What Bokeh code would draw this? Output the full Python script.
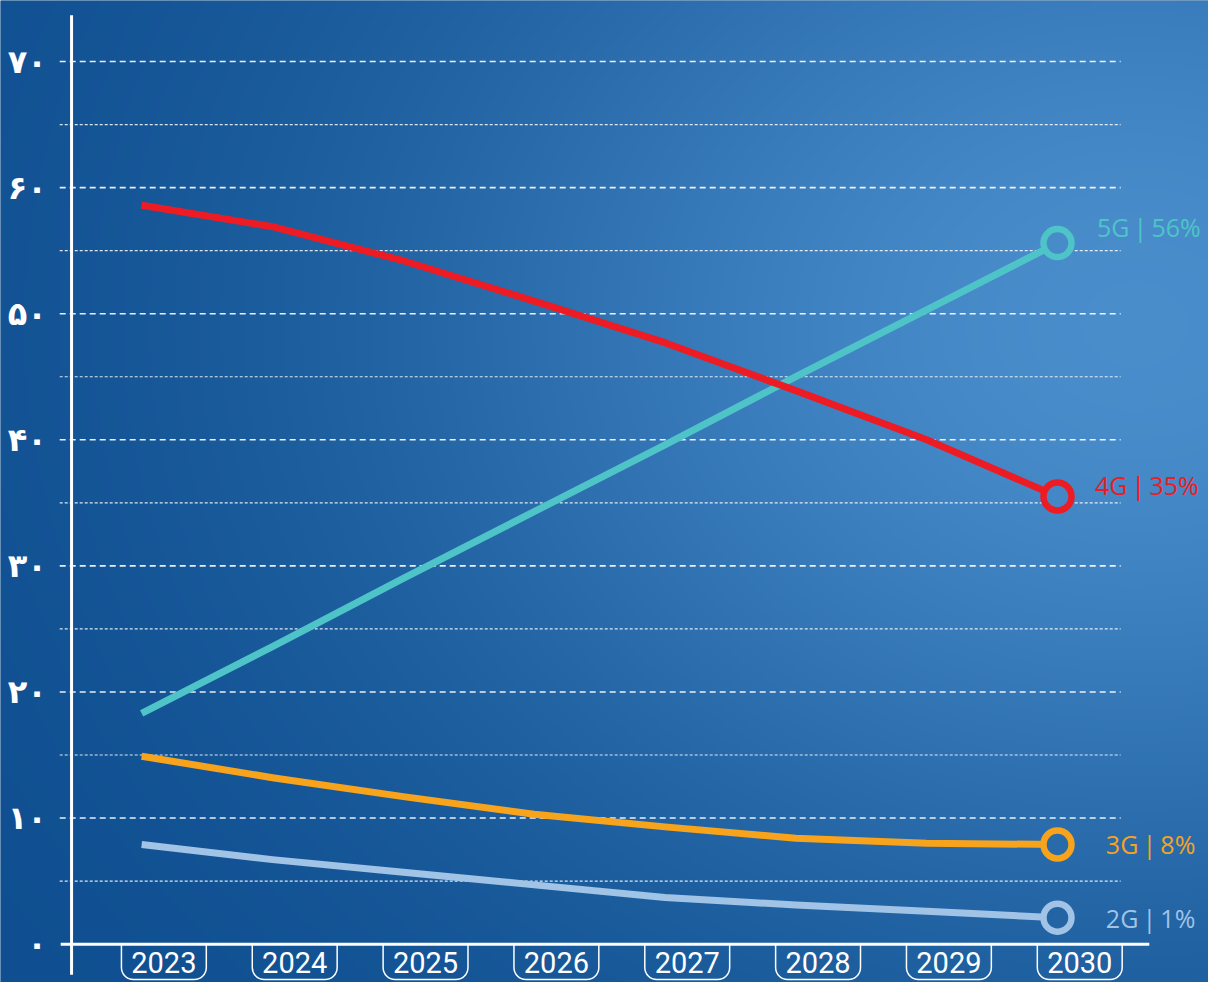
import numpy as np
from bokeh.plotting import figure
from bokeh.models import Range1d
from bokeh.core.properties import value
from bokeh.embed import file_html
from bokeh.resources import INLINE

# ---------------- data ----------------
years = [2023, 2024, 2025, 2026, 2027, 2028, 2029, 2030]
g5 = [18.3, 23.6, 29.0, 34.3, 39.6, 45.0, 50.3, 55.6]
g4 = [58.6, 56.9, 54.2, 51.0, 47.7, 43.9, 40.0, 35.5]
g3 = [14.9, 13.2, 11.7, 10.3, 9.3, 8.4, 8.0, 7.9]
g2 = [7.9, 6.7, 5.7, 4.7, 3.7, 3.1, 2.6, 2.1]
series_names = ["5G", "4G", "3G", "2G"]
end_labels = ["5G\u2009|\u200956%", "4G\u2009|\u200935%", "3G\u2009|\u20098%", "2G\u2009|\u20091%"]
year_labels = ["2023", "2024", "2025", "2026", "2027", "2028", "2029", "2030"]
y_major = [10, 20, 30, 40, 50, 60, 70]
y_minor = [5, 15, 25, 35, 45, 55, 65]
y_ticks = [0, 10, 20, 30, 40, 50, 60, 70]
y_tick_labels = ["۰", "۱۰", "۲۰", "۳۰", "۴۰", "۵۰", "۶۰", "۷۰"]

# ---------------- layout ----------------
W, H = 1208, 982
SX, SY = W / 1224.0, H / 998.0           # reference px -> canvas px
PXX = (1071 - 143) / 7.0 * SX            # canvas px per year
PXY = (959 - 62) / 70.0 * SY             # canvas px per unit
X0 = 2023 - 143 * SX / PXX
X1 = X0 + W / PXX
YT = 70 + 62 * SY / PXY
YB = YT - H / PXY


def rx(px):  # reference-image pixel -> data x
    return X0 + px * SX / PXX


def ry(py):  # reference-image pixel -> data y
    return YT - py * SY / PXY


DARK = np.array([10, 74, 140], dtype=float)
LIGHT = np.array([80, 148, 210], dtype=float)


def bg_color(px, py):  # px, py in reference pixels
    t = 0.86 * np.exp(-(((px - 1150) / 740.0) ** 2 + ((py - 330) / 600.0) ** 2)) + 0.05
    t = np.clip(t, 0, 1)
    return DARK[None, None, :] * (1 - t[..., None]) + LIGHT[None, None, :] * t[..., None]


p = figure(width=W, height=H, x_range=Range1d(X0, X1), y_range=Range1d(YB, YT),
           output_backend="svg", toolbar_location=None, min_border=0,
           x_axis_location=None, y_axis_location=None,
           outline_line_color=None, background_fill_color="#0b4a8a",
           border_fill_color="#0b4a8a")
p.grid.visible = False

# background gradient
S = 4
cw, ch = W // S + 1, H // S + 1
gx = (S * np.arange(cw) + S / 2) / SX
gy = (S * np.arange(ch) + S / 2) / SY
GX, GY = np.meshgrid(gx, gy)
col = bg_color(GX, GY).astype(np.uint8)[::-1]
img = np.empty((ch, cw), dtype=np.uint32)
view = img.view(dtype=np.uint8).reshape((ch, cw, 4))
view[..., 0] = col[..., 0]
view[..., 1] = col[..., 1]
view[..., 2] = col[..., 2]
view[..., 3] = 255
p.image_rgba(image=[img], x=X0, y=YT - (ch * S) / PXY, dw=cw * S / PXX, dh=ch * S / PXY, level="image")

# gridlines
gl_x0, gl_x1 = rx(60), rx(1135)
p.segment(x0=[gl_x0] * len(y_major), x1=[gl_x1] * len(y_major), y0=y_major, y1=y_major,
          line_color="white", line_alpha=0.9, line_width=1.6, line_dash="6 4")
p.segment(x0=[gl_x0] * len(y_minor), x1=[gl_x1] * len(y_minor), y0=y_minor, y1=y_minor,
          line_color="white", line_alpha=0.85, line_width=1.2, line_dash="3 2")

# axis lines
p.segment(x0=[rx(72)], x1=[rx(72)], y0=[ry(15)], y1=[ry(990)], line_color="white", line_width=3)
p.segment(x0=[rx(61)], x1=[rx(1164)], y0=[0], y1=[0], line_color="white", line_width=3)

# y tick labels
p.text(x=[rx(47)] * len(y_ticks), y=y_ticks, text=y_tick_labels, text_align="right",
       text_baseline="middle", text_color="white", text_font=value("DejaVu Sans"),
       text_font_size="32px", text_font_style="bold")

# year boxes & labels
LSHIFT = 0.17
half = 43.0 * SX / PXX
bx = [y + LSHIFT for y in years]
p.quad(left=[b - half for b in bx], right=[b + half for b in bx], top=[0] * len(bx),
       bottom=[ry(995)] * len(bx), fill_alpha=0, line_color="white", line_width=1.5,
       border_radius=(0, 0, 12, 12))
p.text(x=bx, y=[ry(978)] * len(bx), text=year_labels, text_align="center",
       text_baseline="middle", text_color="white",
       text_font=value("Roboto"), text_font_size="29px")

# series
colors = ["#4ec4c8", "#ed1c24", "#f7a31b", "#a0c3e6"]
series = [g5, g4, g3, g2]
lab_dx = [40, 38, 49, 49]
lab_dy = [16, 12, 1, 0]
for vals, c, name, lab, dx, dy in zip(series, colors, series_names, end_labels, lab_dx, lab_dy):
    p.line(years, vals, line_color=c, line_width=7, line_join="round", line_cap="butt")
    ex, ey = years[-1], vals[-1]
    ppx = (ex - X0) * PXX / SX
    ppy = (YT - ey) * PXY / SY
    fc = bg_color(np.array([[ppx]]), np.array([[ppy]]))[0, 0].astype(int)
    fill = "#%02x%02x%02x" % tuple(fc)
    p.scatter([ex], [ey], marker="circle", size=28, fill_color=fill, line_color=c, line_width=6.5)
    p.text(x=[ex + dx * SX / PXX], y=[ey + dy * SY / PXY], text=[lab], text_align="left",
           text_baseline="middle", text_color=c, text_font=value("Open Sans"),
           text_font_size="25px")

open("out.html", "w").write(file_html(p, INLINE))
